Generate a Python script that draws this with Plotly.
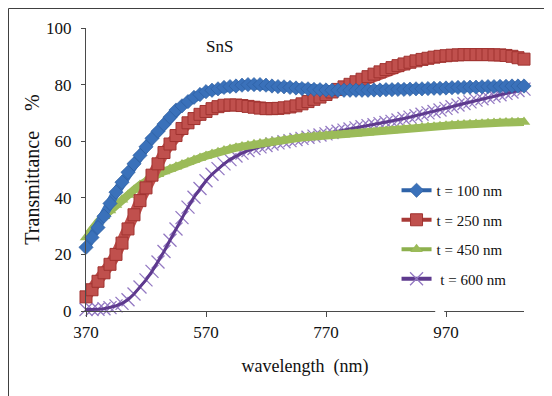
import plotly.graph_objects as go

wavelength = list(range(370, 1101, 10))

t100 = [22.5, 26, 29.5, 33.5, 38, 42, 45.5, 49, 52, 55,
        58, 61, 63.5, 66, 68.5, 71, 72.5, 74, 75.5, 76.5,
        77.5, 78, 78.5, 79, 79.3, 79.5, 79.8, 80, 80, 80,
        79.8, 79.5, 79.3, 79.2, 79, 78.8, 78.6, 78.5, 78.3, 78.2,
        78.1, 78, 78, 78, 78, 78, 78, 78, 78.1, 78.1,
        78.2, 78.2, 78.3, 78.3, 78.4, 78.5, 78.5, 78.6, 78.7, 78.7,
        78.8, 78.9, 79, 79, 79.1, 79.1, 79.2, 79.3, 79.3, 79.4,
        79.4, 79.5, 79.5, 79.5]

t250 = [5, 7.5, 10.5, 13.5, 16.5, 20, 24, 29, 34, 39,
        43.5, 48, 52, 56, 59, 62, 64.5, 66.5, 68, 69.5,
        70.5, 71.5, 72.2, 72.7, 72.8, 72.8, 72.6, 72.3, 72, 71.7,
        71.5, 71.5, 71.6, 71.8, 72.1, 72.5, 73.2, 74, 74.8, 75.6,
        76.5, 77.4, 78.3, 79.2, 80.1, 81, 81.9, 82.8, 83.7, 84.5,
        85.3, 86, 86.7, 87.3, 87.9, 88.4, 88.9, 89.3, 89.7, 90,
        90.2, 90.4, 90.5, 90.6, 90.6, 90.6, 90.6, 90.6, 90.5, 90.5,
        90.3, 90, 89.5, 89]

t450 = [26, 29, 31.5, 33.5, 35.5, 37.5, 39.3, 41, 42.8, 44.5,
        46, 47.3, 48.3, 49.3, 50.2, 51, 51.8, 52.6, 53.4, 54.1,
        54.8, 55.5, 56.1, 56.7, 57.2, 57.7, 58.1, 58.5, 58.9, 59.2,
        59.5, 59.8, 60.1, 60.4, 60.7, 61, 61.3, 61.5, 61.7, 61.9,
        62, 62.1, 62.2, 62.3, 62.5, 62.6, 62.8, 63, 63.2, 63.4,
        63.6, 63.8, 64, 64.2, 64.4, 64.6, 64.8, 65, 65.1, 65.3,
        65.5, 65.6, 65.8, 65.9, 66, 66.1, 66.2, 66.3, 66.4, 66.5,
        66.6, 66.7, 66.7, 66.8]

t600 = [0.5, 0.5, 0.6, 0.8, 1.2, 1.8, 2.7, 4, 6, 8.5,
        11, 14, 17.3, 21, 25, 29, 33, 36.7, 40.2, 43.3,
        46, 48.3, 50.3, 52, 53.5, 54.8, 55.8, 56.7, 57.4, 58,
        58.5, 59, 59.4, 59.8, 60.2, 60.6, 61, 61.4, 61.8, 62.2,
        62.6, 63.1, 63.5, 63.9, 64.3, 64.7, 65.1, 65.5, 65.8, 66.2,
        66.6, 67, 67.5, 68, 68.5, 69, 69.5, 70, 70.5, 71,
        71.6, 72.2, 72.8, 73.3, 73.9, 74.5, 75, 75.5, 76, 76.4,
        76.9, 77.4, 77.9, 78.4]

series_names = ["t = 100 nm", "t = 250 nm", "t = 450 nm", " t = 600 nm"]
x_ticks = [370, 570, 770, 970]
y_ticks = [0, 20, 40, 60, 80, 100]

FONT = "Liberation Serif"

styles = {
    "t600": dict(band="#8B6FBB", band_w=2, line="#5E3A8E",
                 marker=dict(symbol="x-thin", size=13,
                             line=dict(width=1.3, color="#9378C2"))),
    "t450": dict(band="#9BBB59", band_w=8, line="#8DB04E",
                 marker=dict(symbol="triangle-up", size=11, color="#9BBB59",
                             line=dict(width=0))),
    "t250": dict(band="#C0504D", band_w=11, line="#A83A37",
                 marker=dict(symbol="square", size=12, color="#C0504D",
                             line=dict(width=1, color="#A03330"))),
    "t100": dict(band="#3A71BA", band_w=9, line="#2F63A8",
                 marker=dict(symbol="diamond", size=11, color="#3A71BA",
                             line=dict(width=0.6, color="#2C5C9C"))),
}

fig = go.Figure()

order = [("t600", t600, 3), ("t450", t450, 2), ("t250", t250, 1), ("t100", t100, 0)]
for key, vals, idx in order:
    st = styles[key]
    fig.add_trace(go.Scatter(
        x=wavelength, y=vals, mode="lines",
        line=dict(color=st["band"], width=st["band_w"]),
        showlegend=False, hoverinfo="skip", cliponaxis=False))
    fig.add_trace(go.Scatter(
        x=wavelength, y=vals, mode="markers", marker=st["marker"],
        showlegend=False, cliponaxis=False, name=series_names[idx]))
    if key == "t600":
        fig.add_trace(go.Scatter(
            x=wavelength, y=vals, mode="lines",
            line=dict(color=st["line"], width=3),
            showlegend=False, hoverinfo="skip", cliponaxis=False))

# legend entries
for key, idx in [("t100", 0), ("t250", 1), ("t450", 2), ("t600", 3)]:
    st = styles[key]
    fig.add_trace(go.Scatter(
        x=[None], y=[None], mode="lines+markers", name=series_names[idx],
        line=dict(color=st["line"], width=4), marker=st["marker"],
        legendgroup=key, showlegend=True))

# page is offset by the body margin, so the plot box is placed accordingly
ML, MT, MR, MB = 78, 20, 36, 93
PH = 396 - MT - MB
PW = 552 - ML - MR

# axis break gap on the x axis line
fig.add_shape(type="rect", xref="x", yref="paper", x0=952, x1=967,
              y0=-0.01, y1=0.01, fillcolor="white", line=dict(width=0),
              layer="above")
# outer frame (left and top edges visible)
fig.add_shape(type="rect", xref="paper", yref="paper",
              x0=(0.5 - ML) / PW, x1=1.3, y0=-0.5, y1=1 + (MT - 0.5) / PH,
              line=dict(color="#404040", width=1), layer="below")

fig.add_annotation(text="SnS", xref="x", yref="y", x=592, y=93.5,
                   showarrow=False, font=dict(family=FONT, size=17, color="#111"))

fig.update_layout(
    width=552, height=396,
    margin=dict(l=ML, r=MR, t=MT, b=MB, autoexpand=False),
    paper_bgcolor="white", plot_bgcolor="white",
    font=dict(family=FONT, color="#111"),
    showlegend=True,
    legend=dict(x=0.709, y=0.484, xanchor="left", yanchor="top",
                font=dict(family=FONT, size=15, color="#111"),
                tracegroupgap=7, bgcolor="rgba(0,0,0,0)",
                traceorder="grouped"),
    xaxis=dict(range=[370, 1100], tickvals=x_ticks,
               ticktext=[str(v) for v in x_ticks], automargin=False,
               showline=True, linecolor="#4a4a4a", linewidth=1.3,
               ticks="outside", ticklen=5, tickcolor="#4a4a4a",
               showgrid=False, zeroline=False,
               tickfont=dict(family=FONT, size=17, color="#111"),
               ticklabelstandoff=0,
               title=dict(text="wavelength  (nm)", standoff=18,
                          font=dict(family=FONT, size=18, color="#111"))),
    yaxis=dict(range=[0, 100], tickvals=y_ticks, automargin=False,
               showline=True, linecolor="#4a4a4a", linewidth=1.3,
               ticks="outside", ticklen=4, tickcolor="#4a4a4a",
               showgrid=False, zeroline=False,
               tickfont=dict(family=FONT, size=17, color="#111"),
               ticklabelstandoff=6,
               title=dict(text="Transmittance    %", standoff=0,
                          font=dict(family=FONT, size=20, color="#111"))),
)

fig.write_html("out.html")
